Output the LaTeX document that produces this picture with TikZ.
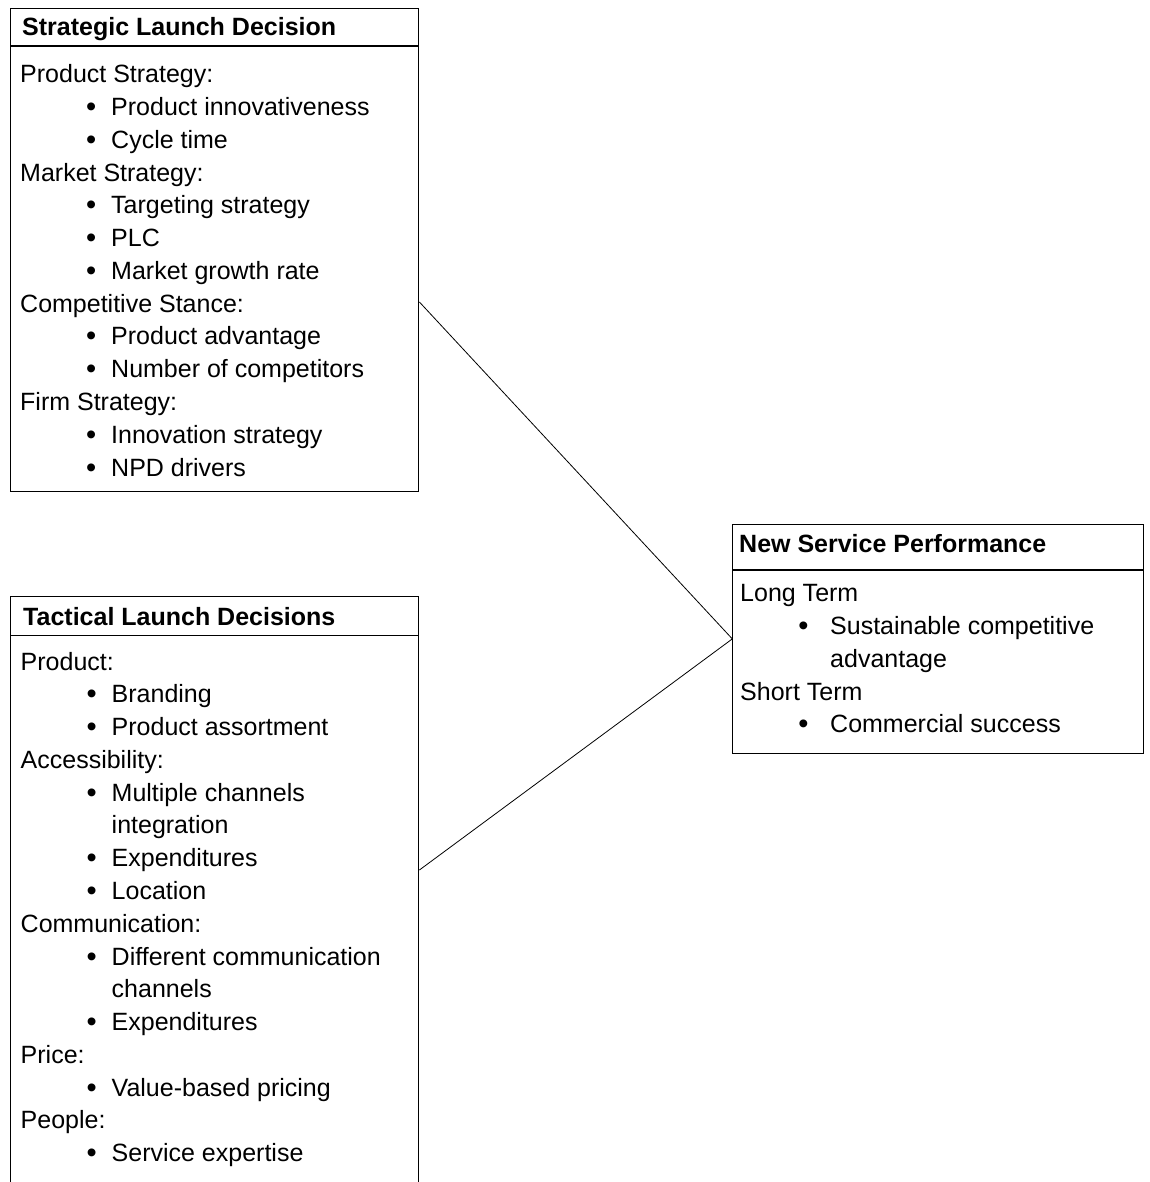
\documentclass[tikz,border=0pt]{standalone}
\usepackage{fontspec}
\setmainfont{Liberation Sans}
\newcommand\listdot{\raisebox{-1pt}{\fontsize{29}{29}\selectfont\textbullet}}
\begin{document}
\begin{tikzpicture}[x=1pt,y=-1pt,
  box/.style={draw=black, line width=1.1pt, rectangle, inner sep=0pt, anchor=north west},
  rule/.style={draw=black, line width=1.1pt},
  link/.style={draw=black, line width=0.8pt},
  txt/.style={anchor=base west, inner sep=0pt, font=\fontsize{25}{30}\selectfont},
  head/.style={txt, font=\fontsize{25}{30}\selectfont\bfseries},
  % line kinds: heading, bulleted item, continuation of an item
  kh/.style={},
  kb/.style={xshift=91pt, execute at begin node={\llap{\listdot\hspace{14.8pt}}}},
  kc/.style={xshift=91pt},
  kbr/.style={xshift=90pt, execute at begin node={\llap{\listdot\hspace{21.8pt}}}},
  kcr/.style={xshift=90pt},
]
\useasboundingbox (0,0) rectangle (1149,1182);
\clip (0,0) rectangle (1149,1182);

% boxes
\node[box, minimum width=408.3pt, minimum height=483pt] (strat) at (10,8) {};
\node[box, minimum width=408.3pt, minimum height=620pt] (tact) at (10,596) {};
\node[box, minimum width=410.7pt, minimum height=228.7pt] (perf) at (732.3,524) {};

% title dividers
\draw[rule] ([yshift=-38pt]strat.north west) -- ([yshift=-38pt]strat.north east);
\draw[rule] ([yshift=-39.7pt]tact.north west) -- ([yshift=-39.7pt]tact.north east);
\draw[rule] ([yshift=-46pt]perf.north west) -- ([yshift=-46pt]perf.north east);

% titles
\node[head] (strat-title) at (22,36) {Strategic Launch Decision};
\node[head] (tact-title) at (23,625) {Tactical Launch Decisions};
\node[head] (perf-title) at (739,552.3) {New Service Performance};

% contents
\foreach [count=\i] \k/\t in {kh/Product Strategy:, kb/Product innovativeness, kb/Cycle time,
    kh/Market Strategy:, kb/Targeting strategy, kb/PLC, kb/Market growth rate,
    kh/Competitive Stance:, kb/Product advantage, kb/Number of competitors,
    kh/Firm Strategy:, kb/Innovation strategy, kb/NPD drivers}
  \node[txt, \k] (strat-\i) at (20, {82.7+(\i-1)*32.78}) {\t};

\foreach [count=\i] \k/\t in {kh/Product:, kb/Branding, kb/Product assortment,
    kh/Accessibility:, kb/Multiple channels, kc/integration, kb/Expenditures, kb/Location,
    kh/Communication:, kb/Different communication, kc/channels, kb/Expenditures,
    kh/Price:, kb/Value-based pricing, kh/People:, kb/Service expertise}
  \node[txt, \k] (tact-\i) at (20.5, {670+(\i-1)*32.78}) {\t};

\foreach [count=\i] \k/\t in {kh/Long Term, kbr/Sustainable competitive, kcr/advantage,
    kh/Short Term, kbr/Commercial success}
  \node[txt, \k] (perf-\i) at (740, {601.7+(\i-1)*32.78}) {\t};

% connectors
\coordinate (strat-port) at ([yshift=-294pt]strat.north east);
\coordinate (tact-port) at ([yshift=-274pt]tact.north east);
\draw[link] (strat-port) -- (perf.west);
\draw[link] (tact-port) -- (perf.west);
\end{tikzpicture}
\end{document}
